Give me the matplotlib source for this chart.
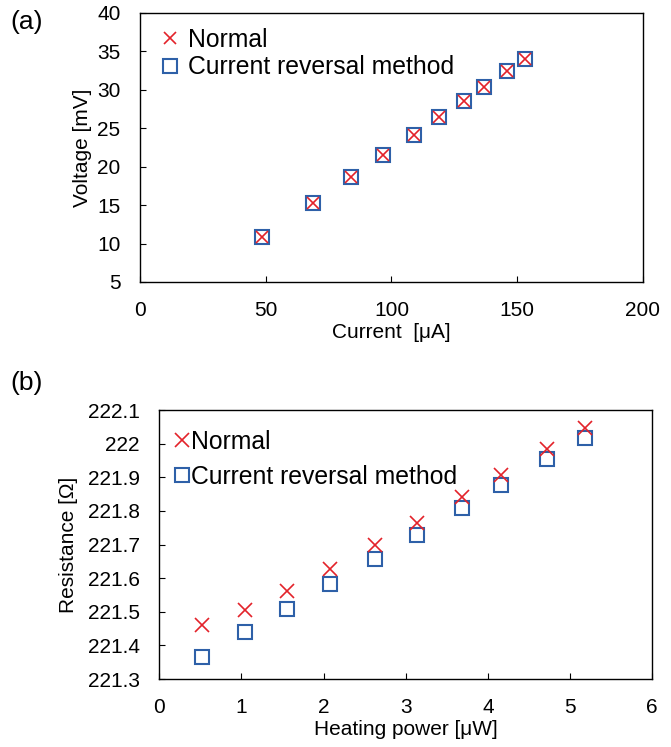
import matplotlib.pyplot as plt

plt.rcParams['font.family'] = ['Liberation Sans', 'DejaVu Sans']

# (a) voltage vs current
current = [48.7, 68.7, 84.0, 96.8, 109.0, 118.8, 128.9, 136.9, 145.9, 152.9]
voltage_normal = [10.82, 15.24, 18.62, 21.48, 24.08, 26.43, 28.59, 30.33, 32.41, 33.97]
voltage_reversal = [10.82, 15.24, 18.62, 21.48, 24.08, 26.43, 28.59, 30.33, 32.41, 33.97]

# (b) resistance vs heating power
power = [0.523, 1.046, 1.557, 2.077, 2.628, 3.131, 3.683, 4.157, 4.720, 5.183]
res_normal = [221.461, 221.504, 221.561, 221.627, 221.698, 221.764, 221.842, 221.907, 221.985, 222.047]
res_reversal = [221.365, 221.439, 221.507, 221.582, 221.656, 221.728, 221.809, 221.876, 221.953, 222.016]

labels = ['Normal', 'Current reversal method']
red = '#E3222A'
blue = '#2E60A8'

fig = plt.figure(figsize=(6.71, 7.47), dpi=100)
ax1 = fig.add_axes([0.2086, 0.6225, 0.7496, 0.3601])
ax2 = fig.add_axes([0.2374, 0.0910, 0.7347, 0.3601])


def style(ax):
    for s in ax.spines.values():
        s.set_linewidth(1.0)
        s.set_color('black')
    ax.tick_params(direction='in', length=4.5, width=0.8, pad=14, labelsize=15)
    ax.tick_params(top=False, right=False)


# panel a
ax1.plot(current, voltage_reversal, ls='none', marker='s', ms=9.5, mfc='white',
         mec=blue, mew=1.5, label=labels[1], zorder=3)
ax1.plot(current, voltage_normal, ls='none', marker='x', ms=8.5, color=red,
         mew=1.2, label=labels[0], zorder=4)
ax1.set_xlim(0, 200)
ax1.set_ylim(5, 40)
ax1.set_xticks([0, 50, 100, 150, 200])
ax1.set_yticks([5, 10, 15, 20, 25, 30, 35, 40])
ax1.set_xlabel('Current  [μA]', fontsize=15, labelpad=2)
ax1.set_ylabel('Voltage [mV]', fontsize=15, labelpad=4)
style(ax1)
h, l = ax1.get_legend_handles_labels()
ax1.legend(h[::-1], l[::-1], loc='upper left', bbox_to_anchor=(0.0, 1.01),
           frameon=False, fontsize=17.8, handlelength=1.0, handletextpad=0.25,
           labelspacing=0.15, borderaxespad=0.3)
fig.text(0.015, 0.97, '(a)', fontsize=19, va='center', ha='left')

# panel b
ax2.plot(power, res_reversal, ls='none', marker='s', ms=9.5, mfc='white',
         mec=blue, mew=1.5, label=labels[1], zorder=3)
ax2.plot(power, res_normal, ls='none', marker='x', ms=9.5, color=red,
         mew=1.2, label=labels[0], zorder=4)
ax2.set_xlim(0, 6)
ax2.set_ylim(221.3, 222.1)
ax2.set_xticks([0, 1, 2, 3, 4, 5, 6])
ax2.set_yticks([221.3, 221.4, 221.5, 221.6, 221.7, 221.8, 221.9, 222.0, 222.1])
ax2.set_yticklabels(['221.3', '221.4', '221.5', '221.6', '221.7', '221.8', '221.9', '222', '222.1'])
ax2.set_xlabel('Heating power [μW]', fontsize=15, labelpad=2)
ax2.set_ylabel('Resistance [Ω]', fontsize=15, labelpad=7)
style(ax2)
h, l = ax2.get_legend_handles_labels()
ax2.legend(h[::-1], l[::-1], loc='upper left', bbox_to_anchor=(-0.01, 0.99),
           frameon=False, fontsize=17.8, handlelength=0.8, handletextpad=0.0,
           labelspacing=0.45, borderaxespad=0.3)
fig.text(0.015, 0.487, '(b)', fontsize=19, va='center', ha='left')

fig.savefig('out.png', dpi=100)
